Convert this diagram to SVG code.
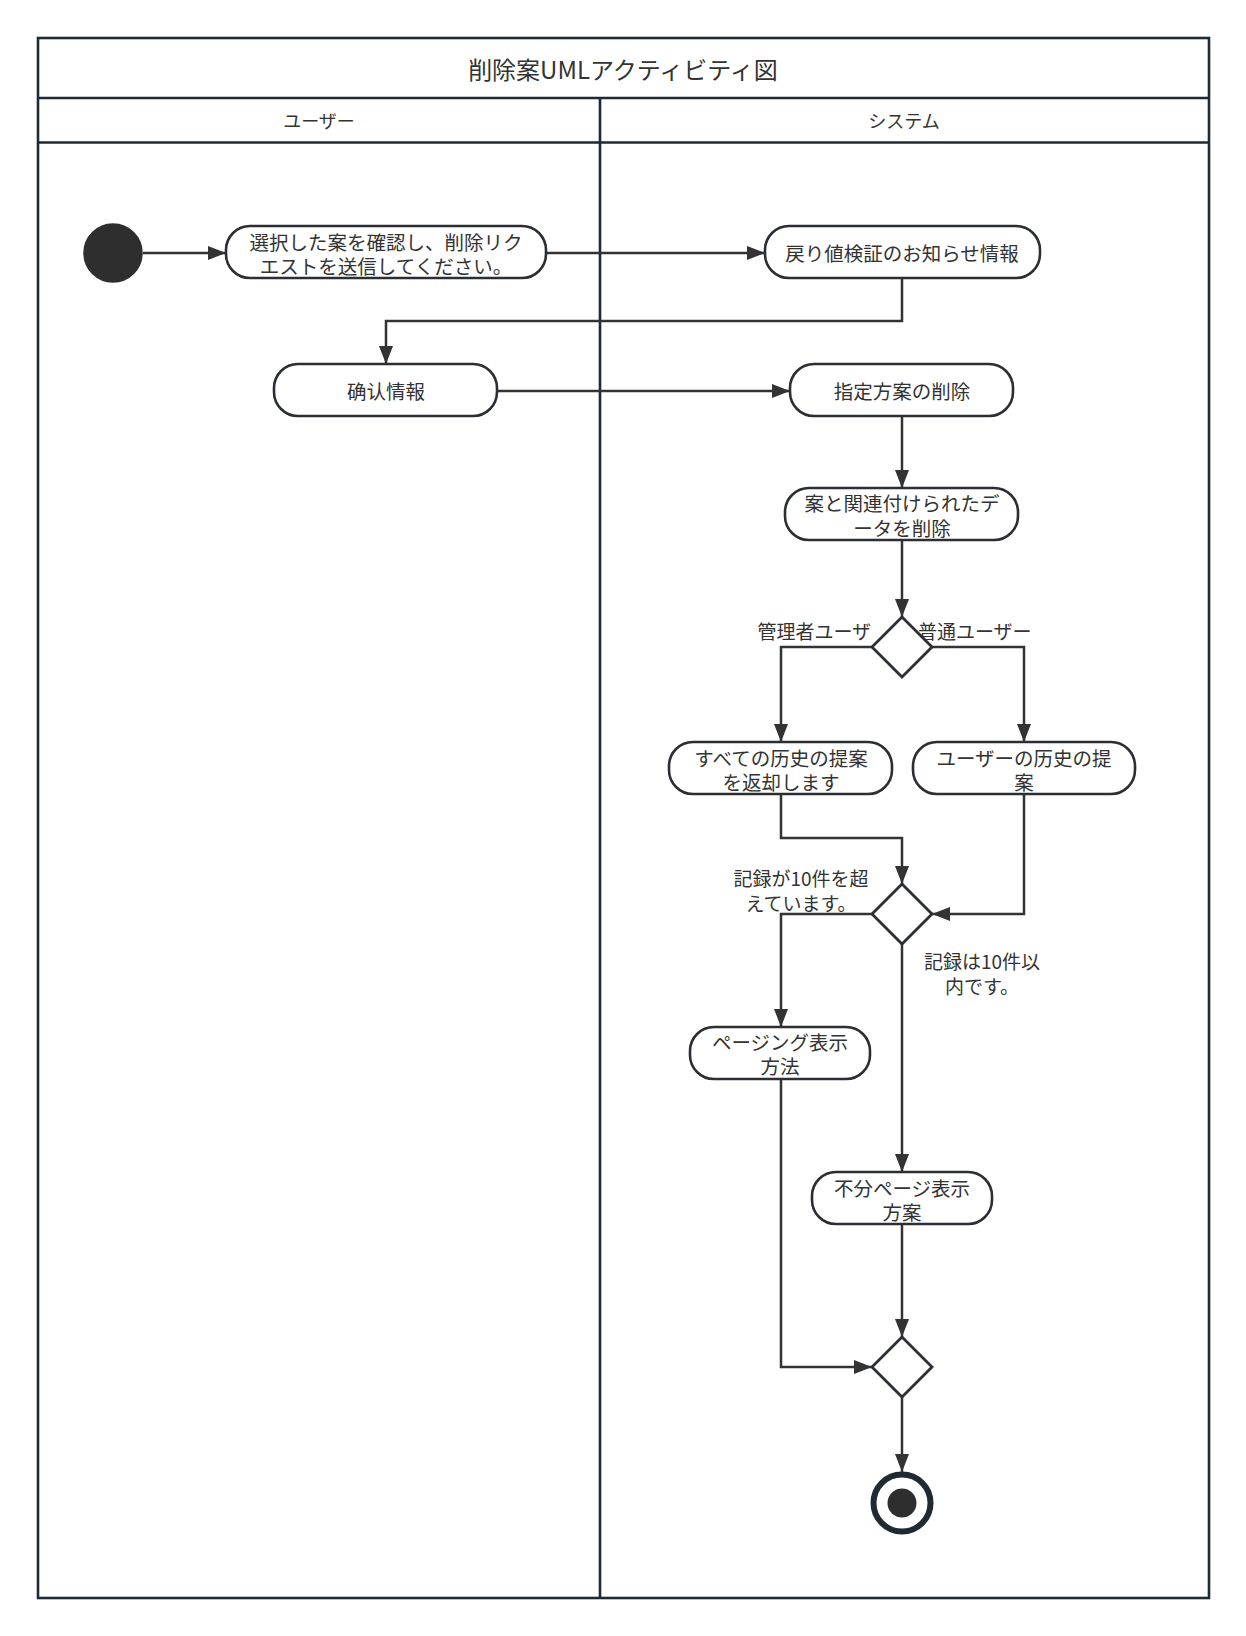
<svg xmlns="http://www.w3.org/2000/svg" width="1246" height="1636" viewBox="0 0 1246 1636">
<style>
text{font-family:"Noto Sans CJK JP","Noto Sans",sans-serif;fill:#333;dominant-baseline:central;text-anchor:middle}
.t{font-size:24px}
.lane{font-size:18px}
.n{font-size:19.5px}
.lbl{font-size:19px}
.frame{fill:none;stroke:#1f2a33;stroke-width:2.6}
.act{fill:#fff;stroke:#2b2f33;stroke-width:2.6}
.dia{fill:#fff;stroke:#2b2f33;stroke-width:2.8}
.c{fill:none;stroke:#333;stroke-width:2.5;marker-end:url(#ah)}
</style>
<defs>
<marker id="ah" markerUnits="userSpaceOnUse" markerWidth="19" markerHeight="14" refX="18" refY="7" orient="auto">
<path d="M0,0 L18,7 L0,14 z" fill="#333"/>
</marker>
</defs>
<rect width="1246" height="1636" fill="#fff"/>
<g id="pool">
<rect class="frame" x="38" y="38" width="1171" height="1560"/>
<line class="frame" x1="38" y1="98" x2="1209" y2="98"/>
<line class="frame" x1="38" y1="142.5" x2="1209" y2="142.5"/>
<line class="frame" x1="600" y1="98" x2="600" y2="1598"/>
<text class="t" x="623" y="68">削除案UMLアクティビティ図</text>
<text class="lane" x="319" y="120">ユーザー</text>
<text class="lane" x="904" y="120">システム</text>
</g>
<g id="connectors">
<path class="c" d="M143,253 H226"/>
<path class="c" d="M546,253 H765"/>
<path class="c" d="M902,278 V321 H386 V364"/>
<path class="c" d="M497,391 H790"/>
<path class="c" d="M902,416 V488"/>
<path class="c" d="M902,540 V617"/>
<path class="c" d="M872,647 H781 V742"/>
<path class="c" d="M932,647 H1024 V742"/>
<path class="c" d="M781,794 V838 H902 V884"/>
<path class="c" d="M1024,794 V914 H932"/>
<path class="c" d="M872,914 H781 V1027"/>
<path class="c" d="M902,944 V1172"/>
<path class="c" d="M781,1079 V1367 H872"/>
<path class="c" d="M902,1224 V1337"/>
<path class="c" d="M902,1397 V1472"/>
<text class="lbl" x="871" y="630" style="text-anchor:end">管理者ユーザ</text>
<text class="lbl" x="918" y="630" style="text-anchor:start">普通ユーザー</text>
<text class="lbl" x="801" y="877">記録が10件を超</text>
<text class="lbl" x="801" y="902">えています。</text>
<text class="lbl" x="982" y="960">記録は10件以</text>
<text class="lbl" x="982" y="985">内です。</text>
</g>
<g id="start"><circle cx="113" cy="253" r="29" fill="#2e2e2e" stroke="#2b2f33" stroke-width="1.5"/></g>
<g id="n1"><rect class="act" x="226" y="226" width="320" height="52" rx="24"/>
<text class="n" x="386" y="241">選択した案を確認し、削除リク</text>
<text class="n" x="386" y="265">エストを送信してください。</text></g>
<g id="n2"><rect class="act" x="765" y="226" width="275" height="52" rx="24"/>
<text class="n" x="902" y="252">戻り値検証のお知らせ情報</text></g>
<g id="n3"><rect class="act" x="274" y="364" width="223" height="52" rx="24"/>
<text class="n" x="386" y="390">确认情報</text></g>
<g id="n4"><rect class="act" x="790" y="364" width="223" height="52" rx="24"/>
<text class="n" x="902" y="390">指定方案の削除</text></g>
<g id="n5"><rect class="act" x="785" y="488" width="233" height="52" rx="24"/>
<text class="n" x="902" y="502">案と関連付けられたデ</text>
<text class="n" x="902" y="527">ータを削除</text></g>
<g id="d1"><path class="dia" d="M902,617 L932,647 L902,677 L872,647 z"/></g>
<g id="n6"><rect class="act" x="669" y="742" width="223" height="52" rx="24"/>
<text class="n" x="781" y="757">すべての历史の提案</text>
<text class="n" x="781" y="781">を返却します</text></g>
<g id="n7"><rect class="act" x="913" y="742" width="222" height="52" rx="24"/>
<text class="n" x="1024" y="757">ユーザーの历史の提</text>
<text class="n" x="1024" y="781">案</text></g>
<g id="d2"><path class="dia" d="M902,884 L932,914 L902,944 L872,914 z"/></g>
<g id="n8"><rect class="act" x="690" y="1027" width="180" height="52" rx="24"/>
<text class="n" x="780" y="1041">ページング表示</text>
<text class="n" x="780" y="1065">方法</text></g>
<g id="n9"><rect class="act" x="812" y="1172" width="180" height="52" rx="24"/>
<text class="n" x="902" y="1187">不分ページ表示</text>
<text class="n" x="902" y="1211">方案</text></g>
<g id="d3"><path class="dia" d="M902,1337 L932,1367 L902,1397 L872,1367 z"/></g>
<g id="end"><circle cx="902" cy="1503" r="28.5" fill="#fff" stroke="#1f2a33" stroke-width="6"/>
<circle cx="902" cy="1503" r="14.5" fill="#2e2e2e"/></g>
</svg>
